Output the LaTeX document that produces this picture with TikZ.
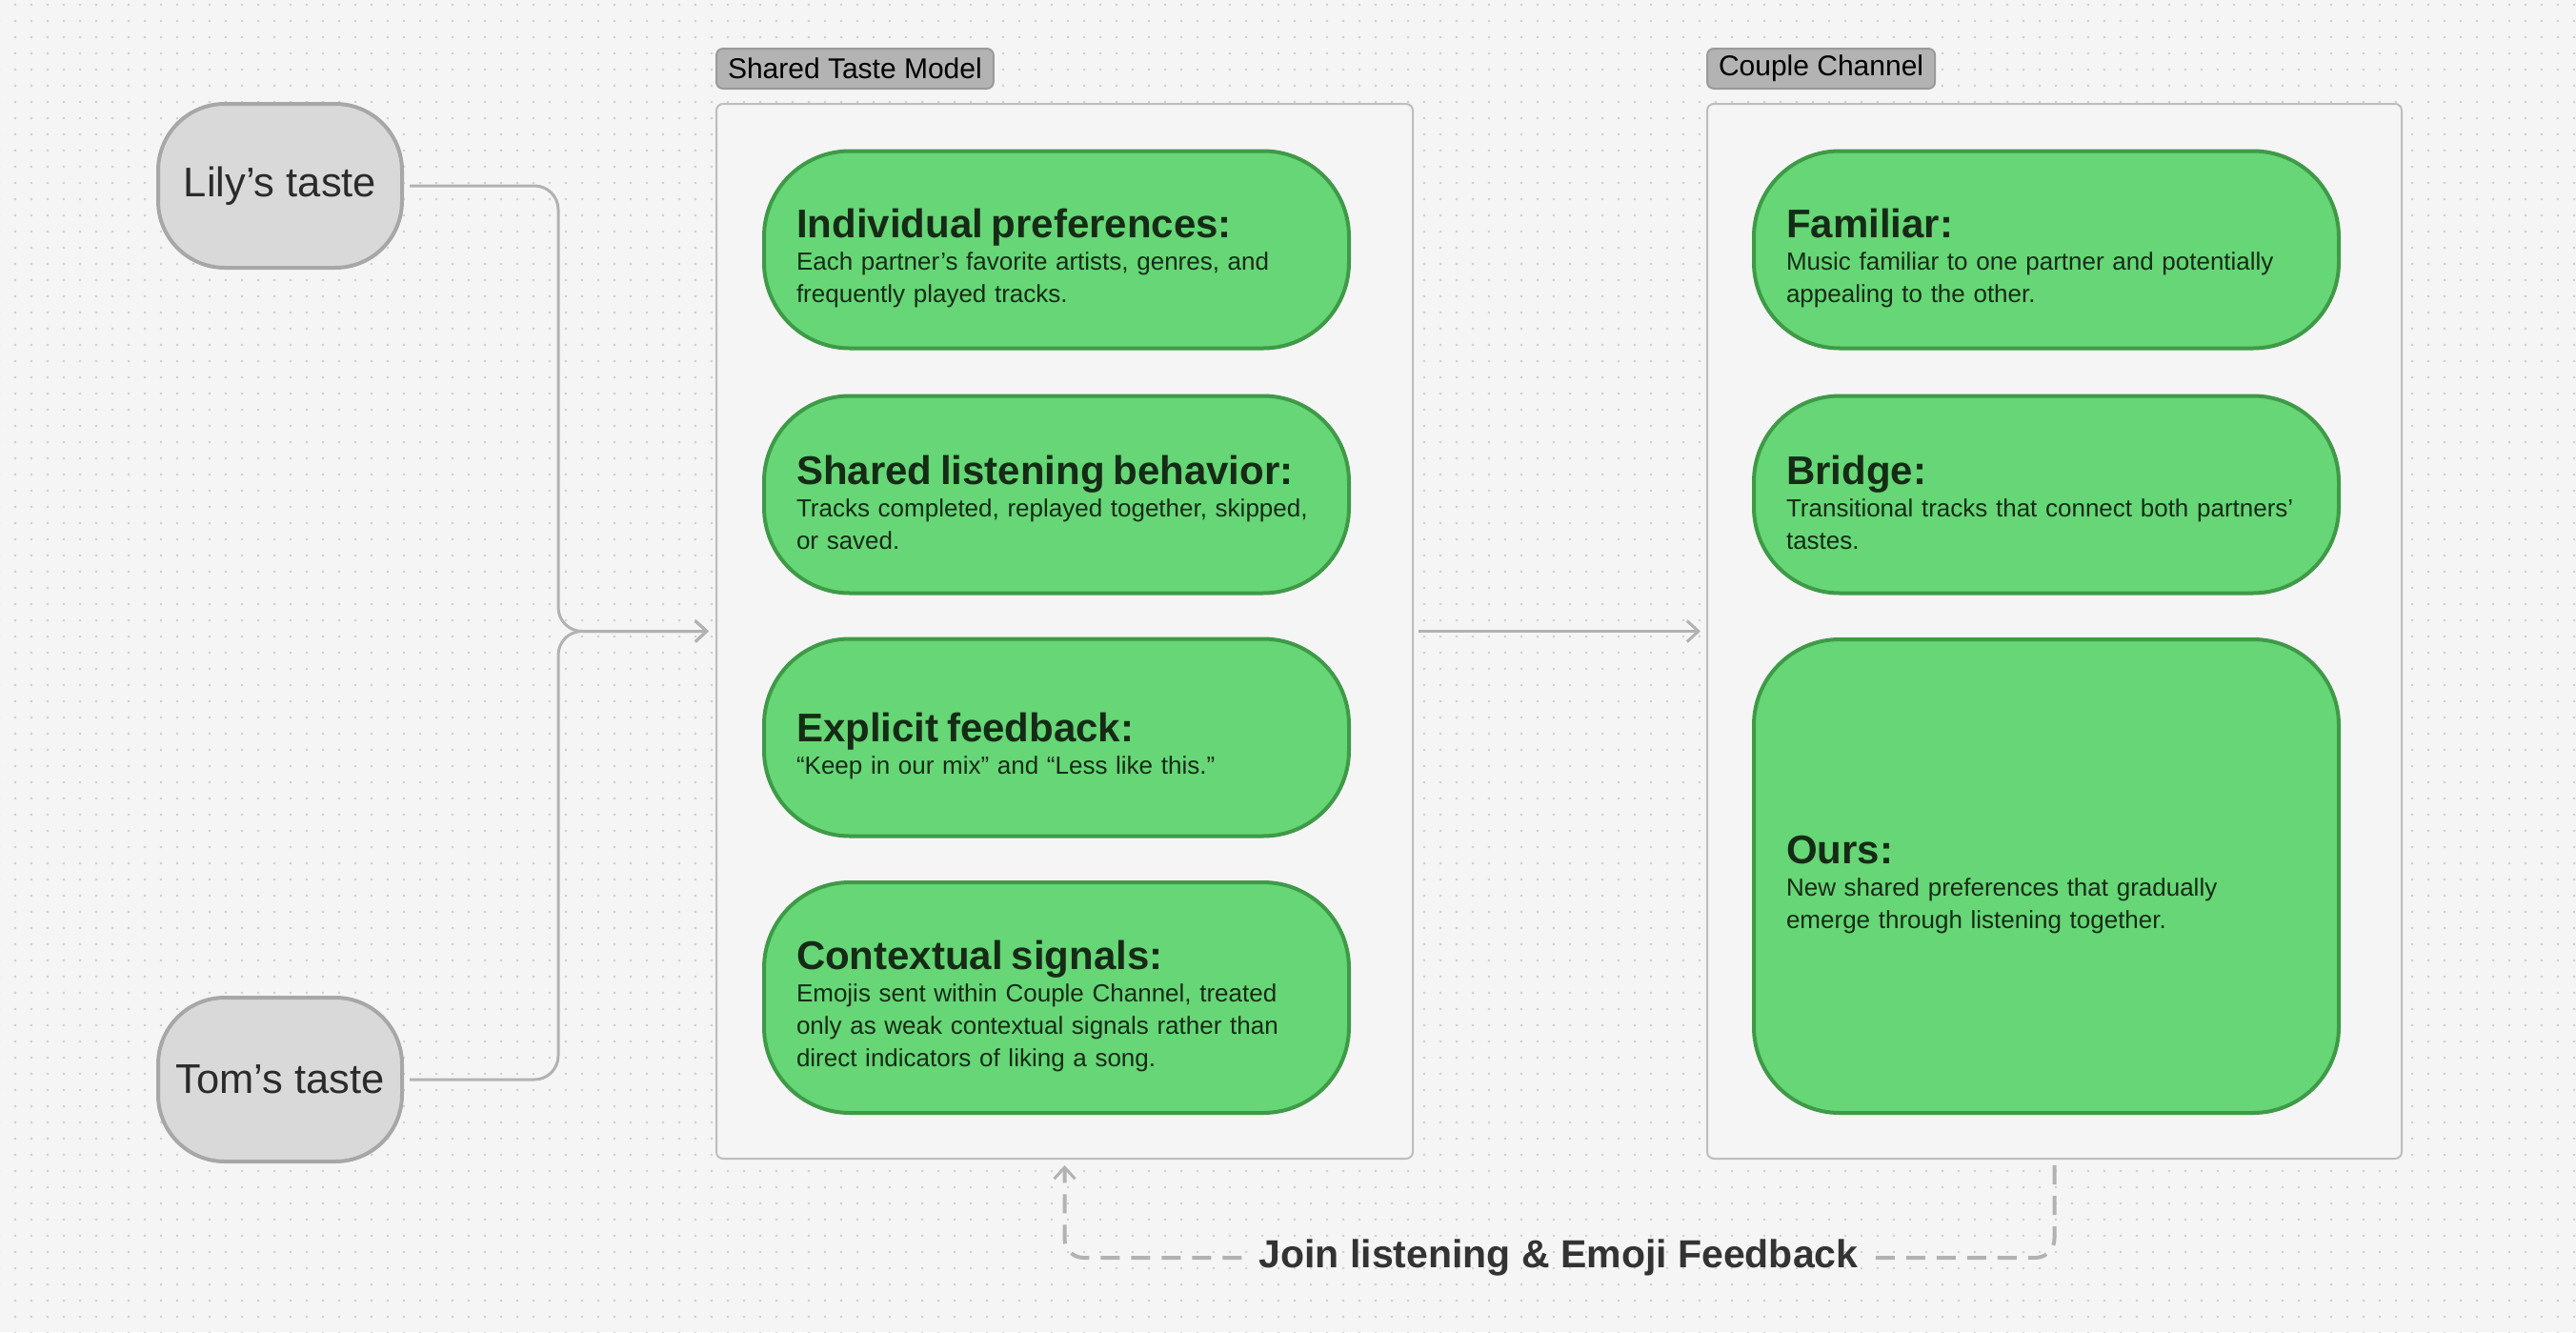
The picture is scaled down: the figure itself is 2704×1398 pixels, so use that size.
\documentclass[tikz,border=0pt]{standalone}
\usepackage{fontspec}
\setmainfont{Liberation Sans}
\usetikzlibrary{
    arrows.meta,
    positioning,
    patterns.meta
}

\definecolor{canvas}{HTML}{F5F5F5}
\definecolor{dotgrey}{HTML}{CDCDCD}
\definecolor{panelline}{HTML}{BDBDBD}
\definecolor{cardfill}{HTML}{66D676}
\definecolor{cardline}{HTML}{3F9A48}
\definecolor{cardtext}{HTML}{152B16}
\definecolor{tastefill}{HTML}{D9D9D9}
\definecolor{tasteline}{HTML}{A7A7A7}
\definecolor{tastetext}{HTML}{2B2B2B}
\definecolor{tagfill}{HTML}{B3B3B3}
\definecolor{tagline}{HTML}{9A9A9A}
\definecolor{wire}{HTML}{B2B2B2}
\definecolor{labeltext}{HTML}{333333}

\newcommand{\cardhead}[1]{{\fontsize{42}{46}\selectfont\bfseries\rule{0pt}{48pt}#1}}

\begin{document}
\begin{tikzpicture}[
    x=1pt, y=-1pt,
    taste/.style={
        rectangle,
        rounded corners=70pt,
        draw=tasteline,
        line width=4pt,
        fill=tastefill,
        text=tastetext,
        minimum width=256pt,
        minimum height=172pt,
        font=\fontsize{43.5}{50}\selectfont
    },
    panel/.style={
        rectangle,
        rounded corners=7pt,
        draw=panelline,
        line width=2pt,
        fill=canvas
    },
    tag/.style={
        rectangle,
        rounded corners=7pt,
        draw=tagline,
        line width=2pt,
        fill=tagfill,
        inner xsep=12pt,
        minimum height=42pt,
        font=\fontsize{30}{33}\selectfont
    },
    card/.style={
        rectangle,
        rounded corners=90pt,
        draw=cardline,
        line width=4pt,
        fill=cardfill,
        text=cardtext,
        align=left,
        text width=546pt,
        inner xsep=34pt,
        font=\fontsize{26}{34}\selectfont
    },
    arrow/.style={
        -{Straight Barb[length=12pt,width=22pt,line width=3pt]},
        line width=3pt,
        draw=wire
    },
    feedback/.style={
        line width=4pt,
        draw=wire,
        dash pattern=on 20pt off 12pt,
        rounded corners=20pt
    },
    note/.style={
        font=\fontsize{41}{48}\selectfont\bfseries,
        text=labeltext,
        inner xsep=18pt
    }
]

% =========================================================
% Canvas with dot grid
% =========================================================
\useasboundingbox (0,0) rectangle (2704,1398);
\fill[canvas] (0,0) rectangle (2704,1398);
\fill[pattern={Dots[radius=1.5pt,distance=17pt]}, pattern color=dotgrey]
    (0,0) rectangle (2704,1398);

% =========================================================
% Left: the two partners
% =========================================================
\node[taste] (lily) at (294,195) {Lily’s taste};
\node[taste] (tom) at (294,1133) {Tom’s taste};

% =========================================================
% Middle: Shared Taste Model
% =========================================================
\node[panel, minimum width=731pt, minimum height=1107pt] (shared) at (1117.5,662.5) {};
\node[tag, above right=14pt and 0pt of shared.north west] (sharedtag) {Shared Taste Model};

\node[card, minimum height=207pt] (indiv) at (1109,262)
{\cardhead{Individual preferences:}\\Each partner’s favorite artists, genres, and\\frequently played tracks.};

\node[card, minimum height=207pt] (behave) at (1109,519)
{\cardhead{Shared listening behavior:}\\Tracks completed, replayed together, skipped,\\or saved.};

\node[card, minimum height=207pt] (explicit) at (1109,774)
{\cardhead{Explicit feedback:}\\“Keep in our mix” and “Less like this.”};

\node[card, minimum height=242pt] (context) at (1109,1047)
{\cardhead{Contextual signals:}\\Emojis sent within Couple Channel, treated\\only as weak contextual signals rather than\\direct indicators of liking a song.};

% =========================================================
% Right: Couple Channel
% =========================================================
\node[panel, minimum width=729pt, minimum height=1107pt] (couple) at (2156.5,662.5) {};
\node[tag, above right=14pt and 0pt of couple.north west] (coupletag) {Couple Channel};

\node[card, minimum height=207pt] (familiar) at (2148,262)
{\cardhead{Familiar:}\\Music familiar to one partner and potentially\\appealing to the other.};

\node[card, minimum height=207pt] (bridge) at (2148,519)
{\cardhead{Bridge:}\\Transitional tracks that connect both partners’\\tastes.};

\node[card, minimum height=497pt] (ours) at (2148,919.5)
{\cardhead{Ours:}\\New shared preferences that gradually\\emerge through listening together.};

% =========================================================
% Arrows
% =========================================================
\coordinate (merge) at (586,662.5);
\draw[arrow, rounded corners=25pt, shorten <=6pt, shorten >=7pt] (lily.east) -| (merge) -- (shared.west);
\draw[arrow, rounded corners=25pt, shorten <=6pt, shorten >=7pt] (tom.east) -| (merge) -- (shared.west);

\draw[arrow, shorten <=5pt, shorten >=6pt] (shared.east) -- (couple.west);

\node[note] (loop) at (1636,1320) {Join listening \& Emoji Feedback};
\draw[feedback, shorten <=6pt] (couple.south) |- (loop.east);
\draw[feedback, -{Straight Barb[length=12pt,width=22pt,line width=3pt]}, shorten >=6pt] (loop.west) -| (shared.south);

\end{tikzpicture}
\end{document}
